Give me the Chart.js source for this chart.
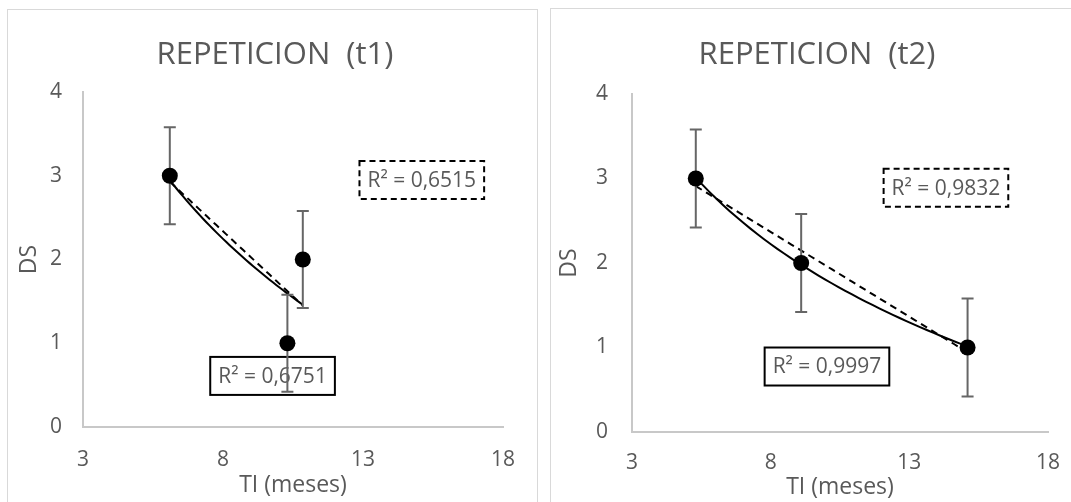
<!DOCTYPE html>
<html>
<head>
<meta charset="utf-8">
<script src="https://cdn.jsdelivr.net/npm/chart.js@4/dist/chart.umd.min.js"></script>
<style>
body { margin: 0; background: #fff; overflow: hidden; width: 1071px; height: 502px; position: relative; }
.panel { position: absolute; border: 1px solid #d9d9d9; box-sizing: border-box; background: #fff; }
#panel1 { left: 7px; top: 9px; width: 531px; height: 520px; }
#panel2 { left: 550px; top: 8px; width: 531px; height: 520px; }
canvas { display: block; }
</style>
</head>
<body>
<div class="panel" id="panel1"><canvas id="chart1" width="529" height="492"></canvas></div>
<div class="panel" id="panel2"><canvas id="chart2" width="529" height="493"></canvas></div>
<script>

// Data

const titles = ['REPETICION  (t1)', 'REPETICION  (t2)'];
const xTitle = 'TI (meses)';
const yTitle = 'DS';

const tiT1 = [6.1, 10.3, 10.85];
const dsT1 = [3, 1, 2];
const errT1 = [0.58, 0.58, 0.58];

const tiT2 = [5.3, 9.1, 15.1];
const dsT2 = [3, 2, 1];
const errT2 = [0.58, 0.58, 0.58];

const xTicks = [3, 8, 13, 18];
const yTicks = [0, 1, 2, 3, 4];

const r2Linear = ['0,6515', '0,9832'];
const r2Log = ['0,6751', '0,9997'];

// Layout per chart (pixel tuning, label anchors in axis units)
// padLeft shifts the title box so it is centred like Excel's

const layouts = [
    { padLeft: 39, yWidth: 36, xHeight: 75, padRight: 34, titleTop: 26.4, titleBottom: 18.4,
      xTickPad: 20, yTickPad: 21, xTitlePad: 3, yTitlePad: -31.8,
      linBox: { x: 15.1, y: 2.95 }, logBox: { x: 9.77, y: 0.61 } },
    { padLeft: 35, yWidth: 46, xHeight: 70, padRight: 32, titleTop: 27.4, titleBottom: 20.4,
      xTickPad: 18, yTickPad: 24, xTitlePad: 1, yTitlePad: -30.8,
      linBox: { x: 14.32, y: 2.89 }, logBox: { x: 10.03, y: 0.775 } }
];

const FONT = '"Open Sans", sans-serif';
const GREY = '#595959';

// Trendlines (same fits Excel uses)

function linearFit(xs, ys){
    const n = xs.length;
    const mx = xs.reduce((a, b) => a + b, 0) / n;
    const my = ys.reduce((a, b) => a + b, 0) / n;
    let sxy = 0, sxx = 0;
    xs.forEach((x, i) => { sxy += (x - mx) * (ys[i] - my); sxx += (x - mx) * (x - mx); });
    const m = sxy / sxx;
    return x => my + m * (x - mx);
}

function logFit(xs, ys){
    const f = linearFit(xs.map(Math.log), ys);
    return x => f(Math.log(x));
}

function sample(fn, xs){
    const lo = Math.min(...xs), hi = Math.max(...xs);
    const pts = [];
    for (let i = 0; i <= 40; i++) {
        const x = lo + (hi - lo) * i / 40;
        pts.push({ x: x, y: fn(x) });
    }
    return pts;
}

// error bars + R² boxes
const extras = {
    id: 'extras',
    afterDatasetsDraw(chart, args, opts){
        const { ctx, scales: { x, y } } = chart;
        ctx.save();
        opts.boxes.forEach(b => {
            ctx.font = '21px ' + FONT;
            const w = ctx.measureText(b.text).width + 16;
            const h = 38;
            const cx = x.getPixelForValue(b.x), cy = y.getPixelForValue(b.y);
            ctx.fillStyle = '#fff';
            ctx.fillRect(cx - w / 2, cy - h / 2, w, h);
            ctx.strokeStyle = '#000';
            ctx.lineWidth = 2;
            ctx.setLineDash(b.dash);
            ctx.strokeRect(cx - w / 2, cy - h / 2, w, h);
            ctx.setLineDash([]);
            ctx.fillStyle = GREY;
            ctx.textAlign = 'center';
            ctx.textBaseline = 'middle';
            ctx.fillText(b.text, cx, cy + 1);
        });
        ctx.strokeStyle = '#666';
        ctx.lineWidth = 2;
        opts.xs.forEach((v, i) => {
            const px = x.getPixelForValue(v);
            const top = y.getPixelForValue(opts.ys[i] + opts.err[i]);
            const bot = y.getPixelForValue(opts.ys[i] - opts.err[i]);
            ctx.beginPath();
            ctx.moveTo(px, top); ctx.lineTo(px, bot);
            ctx.moveTo(px - 6, top); ctx.lineTo(px + 6, top);
            ctx.moveTo(px - 6, bot); ctx.lineTo(px + 6, bot);
            ctx.stroke();
        });
        // points on top of the bars
        ctx.fillStyle = '#000';
        opts.xs.forEach((v, i) => {
            ctx.beginPath();
            ctx.arc(x.getPixelForValue(v), y.getPixelForValue(opts.ys[i]), 8, 0, Math.PI * 2);
            ctx.fill();
        });
        ctx.restore();
    }
};

function build(id, idx, xs, ys, err){
    const L = layouts[idx];
    const ctx = document.getElementById(id);
    return new Chart(ctx, {
        type: 'scatter',
        data: {
            datasets: [
                {
                    label: 'DS',
                    data: xs.map((x, i) => ({ x: x, y: ys[i] })),
                    pointRadius: 0,
                    backgroundColor: '#000',
                    order: 0
                },
                {
                    label: 'log',
                    data: sample(logFit(xs, ys), xs),
                    showLine: true,
                    pointRadius: 0,
                    borderColor: '#000',
                    borderWidth: 2,
                    order: 1
                },
                {
                    label: 'lineal',
                    data: sample(linearFit(xs, ys), xs),
                    showLine: true,
                    pointRadius: 0,
                    borderColor: '#000',
                    borderWidth: 2,
                    borderDash: [7, 5],
                    order: 2
                }
            ]
        },
        options: {
            responsive: false,
            animation: false,
            events: [],
            layout: { padding: { left: L.padLeft, right: L.padRight, top: 0, bottom: 0 } },
            scales: {
                x: {
                    type: 'linear',
                    min: 3,
                    max: 18,
                    afterBuildTicks: s => { s.ticks = xTicks.map(v => ({ value: v })); },
                    afterFit: s => { s.height = L.xHeight; },
                    grid: { display: false, drawTicks: false },
                    border: { display: true, color: '#c8c8c8', width: 2 },
                    ticks: { color: GREY, font: { family: FONT, size: 21 }, padding: L.xTickPad, maxRotation: 0 },
                    title: { display: true, text: xTitle, color: GREY, font: { family: FONT, size: 23 }, padding: { top: 0, bottom: L.xTitlePad } }
                },
                y: {
                    type: 'linear',
                    min: 0,
                    max: 4,
                    afterBuildTicks: s => { s.ticks = yTicks.map(v => ({ value: v })); },
                    afterFit: s => { s.width = L.yWidth; },
                    grid: { display: false, drawTicks: false },
                    border: { display: true, color: '#c8c8c8', width: 2 },
                    ticks: { color: GREY, font: { family: FONT, size: 21 }, padding: L.yTickPad },
                    title: { display: true, text: yTitle, color: GREY, font: { family: FONT, size: 23 }, padding: { top: L.yTitlePad, bottom: 0 } }
                }
            },
            plugins: {
                legend: { display: false },
                tooltip: { enabled: false },
                title: {
                    display: true,
                    text: titles[idx],
                    color: GREY,
                    font: { family: FONT, size: 31, weight: 'normal' },
                    padding: { top: L.titleTop, bottom: L.titleBottom }
                },
                extras: {
                    xs: xs, ys: ys, err: err,
                    boxes: [
                        { text: 'R² = ' + r2Linear[idx], x: L.linBox.x, y: L.linBox.y, dash: [6, 4] },
                        { text: 'R² = ' + r2Log[idx], x: L.logBox.x, y: L.logBox.y, dash: [] }
                    ]
                }
            }
        },
        plugins: [extras]
    });
}

build('chart1', 0, tiT1, dsT1, errT1);
build('chart2', 1, tiT2, dsT2, errT2);

</script>
</body>
</html>
